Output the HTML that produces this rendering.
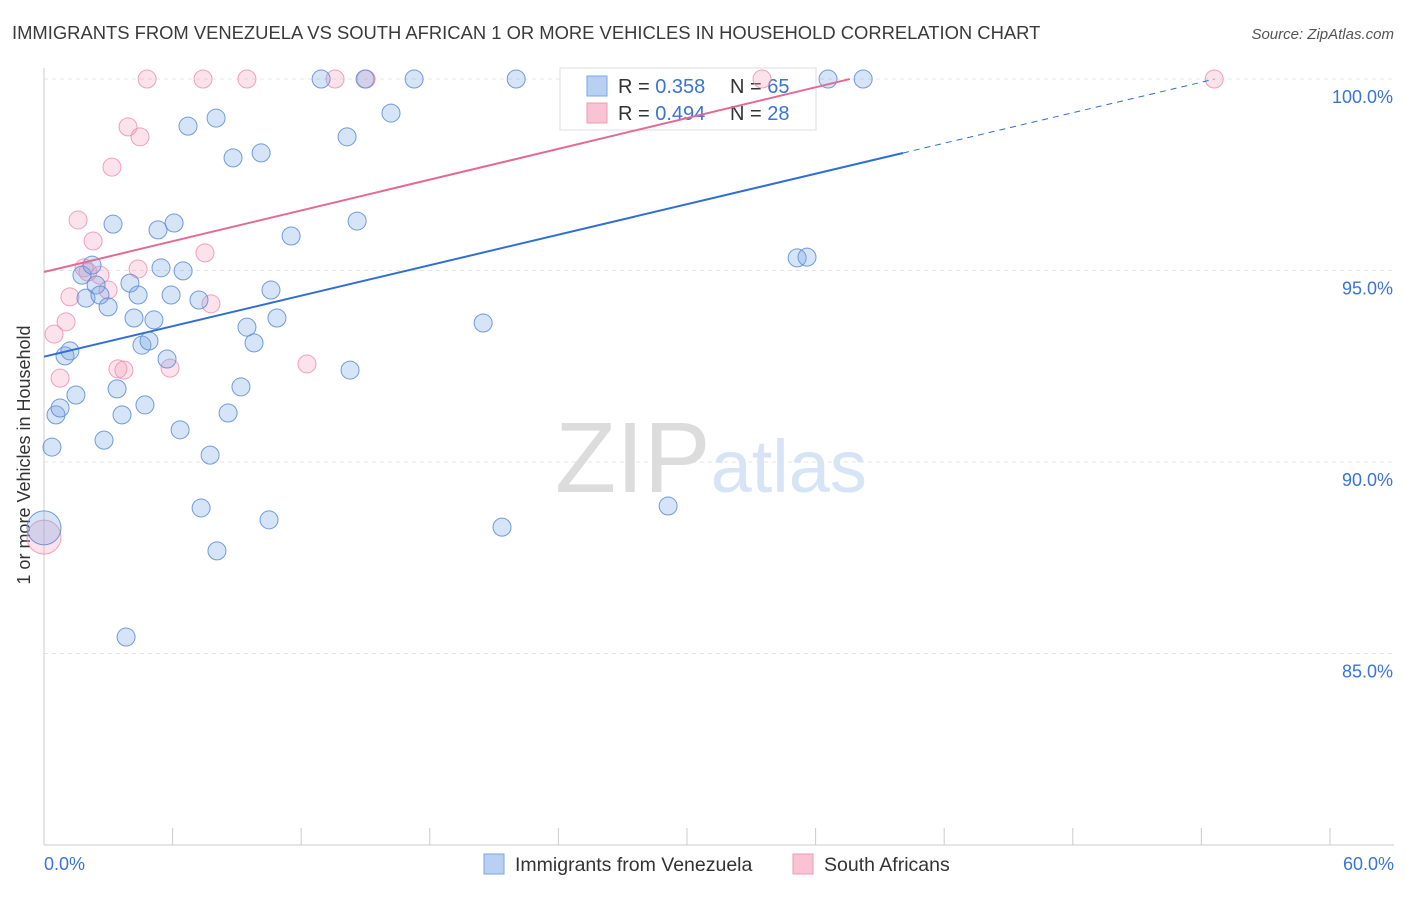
<!DOCTYPE html>
<html><head><meta charset="utf-8"><style>
body{margin:0;background:#fff;font-family:"Liberation Sans",sans-serif;}
svg text{font-family:"Liberation Sans",sans-serif;}
</style></head><body>
<svg id="chart" width="1406" height="892">
<text x="12" y="39" font-size="18.4" fill="#3a3a3a">IMMIGRANTS FROM VENEZUELA VS SOUTH AFRICAN 1 OR MORE VEHICLES IN HOUSEHOLD CORRELATION CHART</text>
<text x="1394" y="39" font-size="15" fill="#555" text-anchor="end" font-style="italic">Source: ZipAtlas.com</text>
<text x="30" y="455" font-size="18" fill="#333" text-anchor="middle" transform="rotate(-90 30 455)">1 or more Vehicles in Household</text>
<g id="grid"></g>
<text x="555" y="492" font-size="100" fill="#dcdcdc" font-family="Liberation Serif">ZIP<tspan fill="#d6e4f5" font-family="Liberation Sans" font-size="74">atlas</tspan></text>
<g>
<rect x="560" y="68" width="256" height="62" fill="#fff" fill-opacity="0.9" stroke="#ddd"/>
<rect x="587" y="76" width="20" height="20" fill="#b8d1f3" stroke="#7aa6e6"/>
<rect x="587" y="103" width="20" height="20" fill="#f9c3d3" stroke="#ee9ab5"/>
<text x="618" y="93" font-size="20" fill="#333">R = <tspan fill="#3a74d6">0.358</tspan></text>
<text x="730" y="93" font-size="20" fill="#333">N = <tspan fill="#3a74d6">65</tspan></text>
<text x="618" y="120" font-size="20" fill="#333">R = <tspan fill="#3a74d6">0.494</tspan></text>
<text x="730" y="120" font-size="20" fill="#333">N = <tspan fill="#3a74d6">28</tspan></text>
</g>
<g id="points"></g>
<g id="trends"></g>
<g>
<rect x="484" y="854" width="20" height="20" fill="#b8d1f3" stroke="#7aa6e6"/>
<text x="515" y="871" font-size="19.5" fill="#333">Immigrants from Venezuela</text>
<rect x="793" y="854" width="20" height="20" fill="#f9c3d3" stroke="#ee9ab5"/>
<text x="824" y="871" font-size="19.5" fill="#333">South Africans</text>
</g>
<text x="44" y="870" font-size="18" fill="#3a74d6">0.0%</text>
<text x="1394" y="870" font-size="18" fill="#3a74d6" text-anchor="end">60.0%</text>
</svg>
<script>
const yTicks=[100,95,90,85];
const blueX=[0,0.37,0.56,0.75,0.98,1.21,1.49,1.77,1.96,2.24,2.43,2.61,2.8,2.99,3.22,3.41,3.64,3.83,4.01,4.2,4.39,4.57,4.71,4.9,5.13,5.32,5.46,5.74,5.93,6.07,6.35,6.49,6.72,7.23,7.33,7.75,8.03,8.07,8.59,8.82,9.19,9.47,9.8,10.13,10.5,10.59,10.87,11.53,12.93,14.14,14.28,14.61,14.98,16.19,17.27,20.49,21.37,22.03,29.12,35.14,35.6,36.58,38.22];
const blueY=[88.28,90.39,91.23,91.41,92.77,92.9,91.75,94.88,94.28,95.14,94.62,94.36,90.57,94.05,96.21,91.91,91.23,85.43,94.67,93.76,94.36,93.05,91.49,93.16,93.71,96.06,95.07,92.69,94.36,96.24,90.84,94.99,98.77,94.23,88.8,90.18,98.98,87.68,91.28,97.94,91.96,93.52,93.11,98.07,88.49,94.49,93.76,95.9,100,98.49,92.4,96.29,100,99.11,100,93.63,88.3,100,88.85,95.33,95.35,100,100];
const pinkX=[0,0.47,0.75,1.03,1.21,1.59,1.87,2.05,2.29,2.61,2.99,3.17,3.45,3.73,3.92,4.48,4.39,4.81,5.88,7.42,7.51,7.79,9.47,12.27,13.58,15.03,33.5,54.6];
const pinkY=[88.04,93.34,92.19,93.66,94.31,96.32,95.07,94.96,95.77,94.88,94.49,97.7,92.43,92.4,98.75,98.49,95.04,100,92.45,100,95.46,94.13,100,92.56,100,100,100,100];
const blueTrend=[92.75,0.1327];
const pinkTrend=[94.96,0.134];
const NS="http://www.w3.org/2000/svg";
const X=v=>44+v*21.433, Y=v=>845-(v-80)*38.3;
function mk(t,a,p){const e=document.createElementNS(NS,t);for(const k in a)e.setAttribute(k,a[k]);p.appendChild(e);return e;}
const grid=document.getElementById('grid');
yTicks.forEach(t=>{
 const l=mk('line',{x1:44,x2:1394,y1:Y(t),y2:Y(t),stroke:'#e4e4e4','stroke-dasharray':'4,4'},grid);
 
 
 const tx=mk('text',{x:1393,y:Y(t)+24,'font-size':18,fill:'#3a74d6','text-anchor':'end'},grid);
 tx.textContent=t.toFixed(1)+'%';
 
 
});
mk('line',{x1:44,x2:44,y1:68,y2:845,stroke:'#ccc'},grid);
mk('line',{x1:44,x2:1394,y1:845,y2:845,stroke:'#ccc'},grid);
for(let i=0;i<=10;i++){mk('line',{x1:X(i*6),x2:X(i*6),y1:828,y2:845,stroke:'#ccc'},grid);}
const pts=document.getElementById('points');
function draw(xs,ys,fill,stroke,name){xs.forEach((x,i)=>{
 const c=mk('circle',{cx:X(x),cy:Y(ys[i]),r:(x===0?17:9),fill:fill,stroke:stroke,'stroke-width':1},pts);
 
 
});}
draw(pinkX,pinkY,'rgba(244,160,190,0.3)','rgba(236,140,175,0.8)','south-african-point');
draw(blueX,blueY,'rgba(120,165,230,0.3)','rgba(90,140,215,0.85)','venezuela-point');
const tr=document.getElementById('trends');
const b1=mk('line',{x1:X(0),y1:Y(blueTrend[0]),x2:X(40.08),y2:Y(blueTrend[0]+blueTrend[1]*40.08),stroke:'#2f6fd3','stroke-width':2},tr);


const b2=mk('line',{x1:X(40.08),y1:Y(blueTrend[0]+blueTrend[1]*40.08),x2:X(54.6),y2:Y(blueTrend[0]+blueTrend[1]*54.6),stroke:'#2f6fd3','stroke-width':1,'stroke-dasharray':'6,5'},tr);


const p1=mk('line',{x1:X(0),y1:Y(pinkTrend[0]),x2:X(37.6),y2:Y(pinkTrend[0]+pinkTrend[1]*37.6),stroke:'#e46a96','stroke-width':2},tr);


</script>
</body></html>
